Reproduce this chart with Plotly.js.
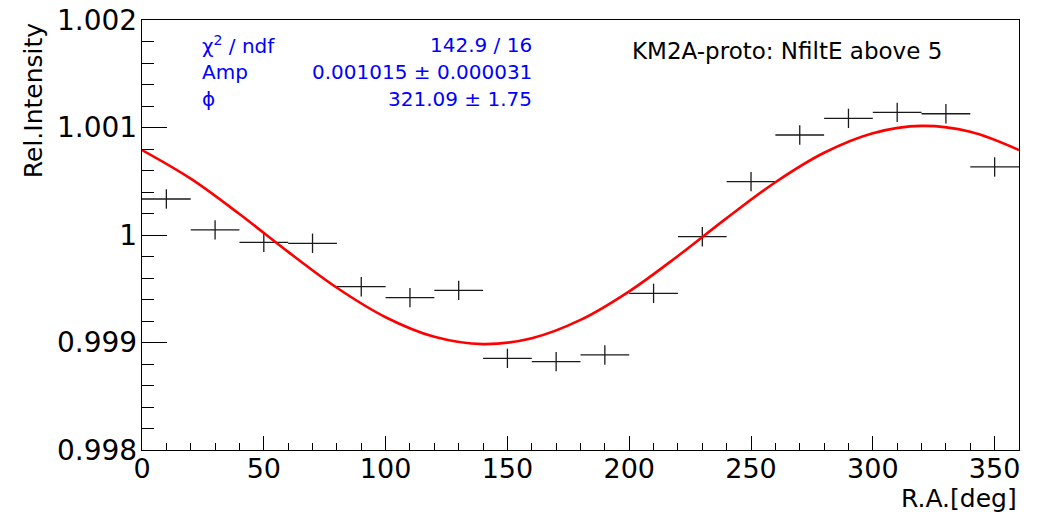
<!DOCTYPE html>
<html>
<head>
<meta charset="utf-8">
<script src="https://cdn.plot.ly/plotly-3.0.1.min.js"></script>
<style>
  html, body { margin: 0; padding: 0; background: #fff; }
  #chart { width: 1043px; height: 515px; }
</style>
</head>
<body>
<div id="chart"></div>
<script>
// Histogram bins (R.A. centres, deg) and relative intensities
const binCenters = [10, 30, 50, 70, 90, 110, 130, 150, 170, 190, 210, 230, 250, 270, 290, 310, 330, 350];
const binHalfWidth = [10, 10, 10, 10, 10, 10, 10, 10, 10, 10, 10, 10, 10, 10, 10, 10, 10, 10];
const relIntensity = [1.000335, 1.000047, 0.999932, 0.999923, 0.999519, 0.999417, 0.999485, 0.998853, 0.998822,
                      0.998884, 0.999457, 0.999984, 1.000496, 1.000930, 1.001085, 1.001141, 1.001128, 1.000633];
const relError = [0.00009, 0.00009, 0.00009, 0.00009, 0.00009, 0.00009, 0.00009, 0.00009, 0.00009,
                  0.00009, 0.00009, 0.00009, 0.00009, 0.00009, 0.00009, 0.00009, 0.00009, 0.00009];

// Fitted curve
const fitRA = [0, 20, 40, 60, 80, 100, 120, 140, 160, 180, 200, 220, 240, 260, 280, 300, 320, 340, 360];
const fitValue = [1.000790, 1.000524, 1.000195, 0.999843, 0.999509, 0.999235, 0.999053, 0.998985, 0.999040, 0.999210,
                  0.999476, 0.999805, 1.000157, 1.000491, 1.000765, 1.000947, 1.001015, 1.000960, 1.000790];

// Axis ticks
const xTickVals = [0, 50, 100, 150, 200, 250, 300, 350];
const xTickText = ['0', '50', '100', '150', '200', '250', '300', '350'];
const yTickVals = [0.998, 0.999, 1.0, 1.001, 1.002];
const yTickText = ['0.998', '0.999', '1', '1.001', '1.002'];

// Texts
const statLabels = ['χ<sup>2</sup> / ndf', 'Amp', 'ϕ'];
const statValues = ['142.9 / 16', '0.001015 ± 0.000031', '321.09 ± 1.75'];
const plotLabel = 'KM2A-proto: NfiltE above 5';
const xTitle = 'R.A.[deg]';
const yTitle = 'Rel.Intensity';

const FONT = 'DejaVu Sans, Liberation Sans, Arial, sans-serif';

const traces = [
  {
    x: binCenters, y: relIntensity, type: 'scatter', mode: 'markers',
    marker: { size: 1, color: 'rgba(0,0,0,0)' },
    error_x: { type: 'data', array: binHalfWidth, symmetric: true, width: 0, thickness: 1.3, color: '#1a1a1a' },
    error_y: { type: 'data', array: relError, symmetric: true, width: 0, thickness: 1.3, color: '#1a1a1a' },
    hoverinfo: 'x+y', showlegend: false
  },
  {
    x: fitRA, y: fitValue, type: 'scatter', mode: 'lines',
    line: { color: '#ff0000', width: 2.6, shape: 'spline', smoothing: 1.0 },
    showlegend: false
  }
];

const statRowsY = [0.942, 0.879, 0.816];
const annotations = [];
for (let i = 0; i < statLabels.length; i++) {
  annotations.push({ xref: 'paper', yref: 'paper', x: 0.066, y: statRowsY[i], xanchor: 'left', yanchor: 'middle',
    text: statLabels[i], showarrow: false, font: { family: FONT, size: 20, color: '#0000ff' } });
  annotations.push({ xref: 'paper', yref: 'paper', x: 0.447, y: statRowsY[i], xanchor: 'right', yanchor: 'middle',
    text: statValues[i], showarrow: false, font: { family: FONT, size: 20, color: '#0000ff' } });
}
annotations.push({ xref: 'paper', yref: 'paper', x: 0.7355, y: 0.928, xanchor: 'center', yanchor: 'middle',
  text: plotLabel, showarrow: false, font: { family: FONT, size: 23, color: '#000' } });
annotations.push({ xref: 'paper', yref: 'paper', x: 1.0, y: -0.075, xanchor: 'right', yanchor: 'top',
  text: xTitle, showarrow: false, font: { family: FONT, size: 25, color: '#000' } });
annotations.push({ xref: 'paper', yref: 'paper', x: -0.124, y: 1.0, xanchor: 'center', yanchor: 'top',
  textangle: -90, text: yTitle, showarrow: false, font: { family: FONT, size: 25, color: '#000' } });

const layout = {
  width: 1043, height: 515,
  margin: { l: 142, r: 24, t: 20, b: 65, pad: 0 },
  paper_bgcolor: '#fff', plot_bgcolor: '#fff',
  showlegend: false,
  xaxis: {
    range: [0, 360], showgrid: false, zeroline: false,
    showline: true, linecolor: '#000', linewidth: 1.2, mirror: true,
    ticks: 'inside', ticklen: 14, tickwidth: 1, tickcolor: '#000',
    tickvals: xTickVals, ticktext: xTickText, ticklabelstandoff: -6,
    tickfont: { family: FONT, size: 27, color: '#000' },
    minor: { dtick: 10, tick0: 0, ticks: 'inside', ticklen: 7, tickwidth: 1, tickcolor: '#000', showgrid: false }
  },
  yaxis: {
    range: [0.998, 1.002], showgrid: false, zeroline: false,
    showline: true, linecolor: '#000', linewidth: 1.2, mirror: true,
    ticks: 'inside', ticklen: 25, tickwidth: 1, tickcolor: '#000',
    tickvals: yTickVals, ticktext: yTickText, ticklabelstandoff: -2,
    tickfont: { family: FONT, size: 28, color: '#000' },
    minor: { dtick: 0.0002, tick0: 0.998, ticks: 'inside', ticklen: 12, tickwidth: 1, tickcolor: '#000', showgrid: false }
  },
  annotations: annotations
};

Plotly.newPlot('chart', traces, layout, { displayModeBar: false, staticPlot: true });
</script>
</body>
</html>
